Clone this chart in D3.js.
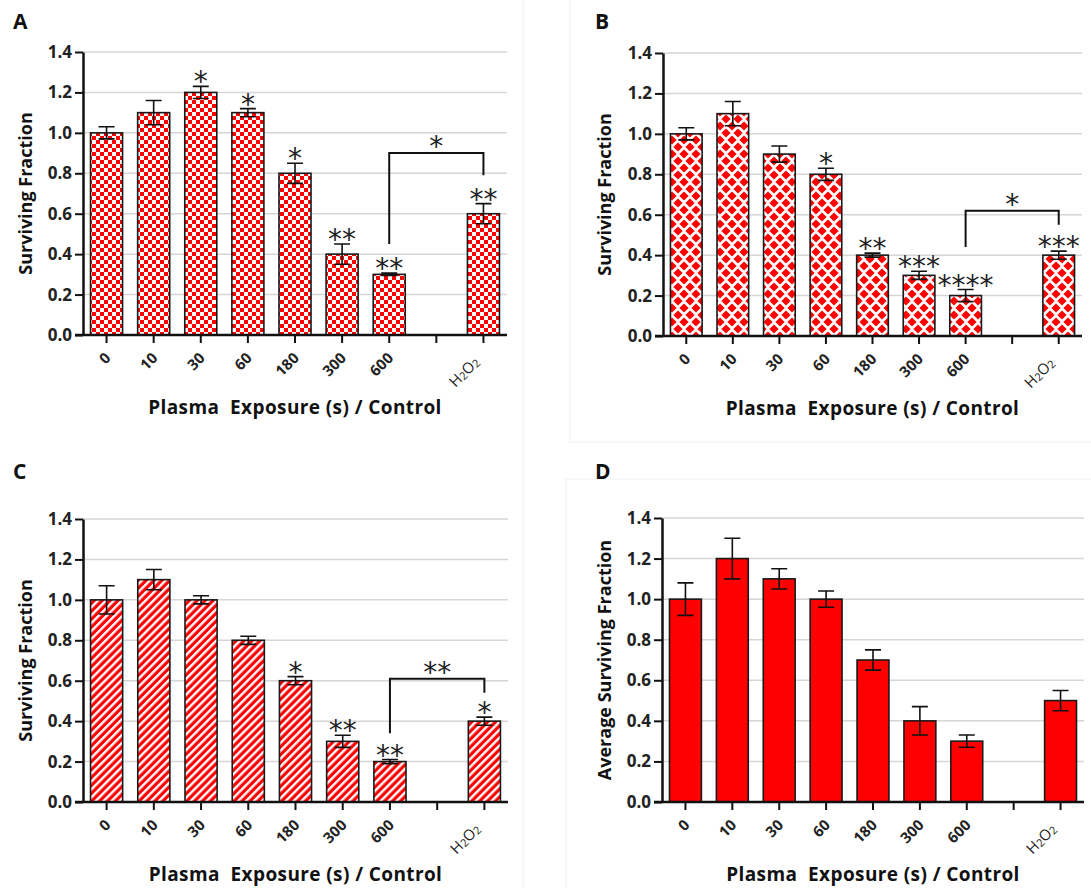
<!DOCTYPE html>
<html>
<head>
<meta charset="utf-8">
<script src="https://cdn.jsdelivr.net/npm/d3@7/dist/d3.min.js"></script>
<style>
  body { margin: 0; background: #fff; }
  svg { display: block; }
  text { font-family: 'Open Sans', sans-serif; }
</style>
</head>
<body>
<div id="chart"></div>
<script>
// Plasma exposure survival – four panels (A-D)

var categories = ['0', '10', '30', '60', '180', '300', '600', 'gap', 'H2O2']

var survivalA = [1.0, 1.1, 1.2, 1.1, 0.8, 0.4, 0.3, null, 0.6]
var errorA = [0.03, 0.06, 0.03, 0.02, 0.05, 0.05, 0.006, null, 0.05]
var starsA = ['', '', '*', '*', '*', '**', '**', '', '**']
var bracketA = { from: '600', to: 'H2O2', level: 0.9, fromEnd: 0.45, toEnd: 0.79, label: '*' }

var survivalB = [1.0, 1.1, 0.9, 0.8, 0.4, 0.3, 0.2, null, 0.4]
var errorB = [0.03, 0.06, 0.04, 0.03, 0.01, 0.02, 0.03, null, 0.02]
var starsB = ['', '', '', '*', '**', '***', '****', '', '***']
var bracketB = { from: '600', to: 'H2O2', level: 0.62, fromEnd: 0.44, toEnd: 0.55, label: '*' }

var survivalC = [1.0, 1.1, 1.0, 0.8, 0.6, 0.3, 0.2, null, 0.4]
var errorC = [0.07, 0.05, 0.02, 0.02, 0.02, 0.03, 0.01, null, 0.02]
var starsC = ['', '', '', '', '*', '**', '**', '', '*']
var bracketC = { from: '600', to: 'H2O2', level: 0.61, fromEnd: 0.34, toEnd: 0.54, label: '**' }

var survivalD = [1.0, 1.2, 1.1, 1.0, 0.7, 0.4, 0.3, null, 0.5]
var errorD = [0.08, 0.1, 0.05, 0.04, 0.05, 0.07, 0.03, null, 0.05]

var yTicks = [0, 0.2, 0.4, 0.6, 0.8, 1.0, 1.2, 1.4]

var width = 1091
var height = 888
var red = '#ff0000'
var starFont = "'DejaVu Sans', sans-serif"

var svg = d3.select('#chart').append('svg')
  .attr('width', width)
  .attr('height', height)

// faint frames of the original panel images
svg.append('line').attr('x1', 523).attr('x2', 523).attr('y1', 0).attr('y2', 888)
  .attr('stroke', '#f0f0f0')
svg.append('rect').attr('x', 570).attr('y', -2).attr('width', 530).attr('height', 444)
  .attr('fill', 'none').attr('stroke', '#f0f0f0')
svg.append('rect').attr('x', 566).attr('y', 479).attr('width', 530).attr('height', 420)
  .attr('fill', 'none').attr('stroke', '#f0f0f0')

// fill patterns
var defs = svg.append('defs')

var checker = defs.append('pattern').attr('id', 'checker')
  .attr('patternUnits', 'userSpaceOnUse').attr('width', 8).attr('height', 8)
checker.append('rect').attr('width', 8).attr('height', 8).attr('fill', red)
checker.append('rect').attr('width', 4).attr('height', 4).attr('fill', '#fff')
checker.append('rect').attr('x', 4).attr('y', 4).attr('width', 4).attr('height', 4).attr('fill', '#fff')

var diamonds = defs.append('pattern').attr('id', 'diamonds')
  .attr('patternUnits', 'userSpaceOnUse').attr('width', 12).attr('height', 14)
diamonds.append('rect').attr('width', 12).attr('height', 14).attr('fill', '#fff')
;[[0, 0], [12, 0], [6, 7], [0, 14], [12, 14]].forEach(function (c) {
  var r = 4.6
  diamonds.append('path')
    .attr('d', 'M' + c[0] + ',' + (c[1] - r) + 'L' + (c[0] + r) + ',' + c[1] +
      'L' + c[0] + ',' + (c[1] + r) + 'L' + (c[0] - r) + ',' + c[1] + 'Z')
    .attr('fill', red)
})

var stripes = defs.append('pattern').attr('id', 'stripes')
  .attr('patternUnits', 'userSpaceOnUse').attr('width', 5.6).attr('height', 5.6)
  .attr('patternTransform', 'rotate(45)')
stripes.append('rect').attr('width', 5.6).attr('height', 5.6).attr('fill', red)
stripes.append('rect').attr('width', 2.4).attr('height', 5.6).attr('fill', '#fff')

var panels = [
  { letter: 'A', lx: 13, ly: 29, x0: 83, x1: 507, top: 52, bottom: 335, titleX: 32, xTitleY: 414,
    values: survivalA, errors: errorA, stars: starsA, bracket: bracketA, fill: 'url(#checker)', yTitle: 'Surviving Fraction' },
  { letter: 'B', lx: 595, ly: 29, x0: 663, x1: 1082, top: 53, bottom: 336, titleX: 611, xTitleY: 415,
    values: survivalB, errors: errorB, stars: starsB, bracket: bracketB, fill: 'url(#diamonds)', yTitle: 'Surviving Fraction' },
  { letter: 'C', lx: 13, ly: 479, x0: 83, x1: 508, top: 519, bottom: 802, titleX: 32, xTitleY: 881,
    values: survivalC, errors: errorC, stars: starsC, bracket: bracketC, fill: 'url(#stripes)', yTitle: 'Surviving Fraction' },
  { letter: 'D', lx: 595, ly: 479, x0: 662, x1: 1084, top: 518, bottom: 802, titleX: 611, xTitleY: 881,
    values: survivalD, errors: errorD, stars: null, bracket: null, fill: red, yTitle: 'Average Surviving Fraction' }
]

panels.forEach(drawPanel)

function drawPanel (p) {
  var g = svg.append('g')
  var x = d3.scaleBand().domain(categories).range([p.x0, p.x1])
    .paddingInner(0.32).paddingOuter(0.16)
  var y = d3.scaleLinear().domain([0, 1.4]).range([p.bottom, p.top])
  var cx = function (c) { return x(c) + x.bandwidth() / 2 }

  // panel letter
  g.append('text').attr('x', p.lx).attr('y', p.ly)
    .attr('font-size', 21).attr('font-weight', 700).attr('fill', '#111')
    .text(p.letter)

  // grid
  g.append('g').selectAll('line')
    .data(yTicks.filter(function (t) { return t > 0 }))
    .join('line')
    .attr('x1', p.x0).attr('x2', p.x1)
    .attr('y1', function (d) { return y(d) }).attr('y2', function (d) { return y(d) })
    .attr('stroke', '#d6d6d6').attr('stroke-width', 1.5)

  var rows = categories.map(function (c, i) {
    return { cat: c, value: p.values[i], err: p.errors[i], star: p.stars ? p.stars[i] : '' }
  }).filter(function (d) { return d.value != null })

  // bars
  g.append('g').selectAll('rect')
    .data(rows)
    .join('rect')
    .attr('x', function (d) { return x(d.cat) })
    .attr('width', x.bandwidth())
    .attr('y', function (d) { return y(d.value) })
    .attr('height', function (d) { return y(0) - y(d.value) })
    .attr('fill', p.fill)
    .attr('stroke', '#1a1a1a').attr('stroke-width', 1.6)

  // error bars
  var eb = g.append('g').attr('stroke', '#111').attr('stroke-width', 1.6).attr('fill', 'none')
  rows.forEach(function (d) {
    var c = cx(d.cat)
    var hi = y(d.value + d.err)
    var lo = y(d.value - d.err)
    eb.append('path').attr('d', 'M' + c + ',' + hi + 'V' + lo +
      'M' + (c - 8) + ',' + hi + 'H' + (c + 8) + 'M' + (c - 8) + ',' + lo + 'H' + (c + 8))
  })

  // significance stars
  g.append('g').selectAll('text')
    .data(rows.filter(function (d) { return d.star }))
    .join('text')
    .attr('x', function (d) { return cx(d.cat) })
    .attr('y', function (d) { return y(d.value + d.err) + 5 })
    .attr('text-anchor', 'middle')
    .attr('font-size', 28).attr('fill', '#222')
    .style('font-family', starFont)
    .text(function (d) { return d.star })

  // bracket
  if (p.bracket) {
    var b = p.bracket
    var xa = cx(b.from)
    var xb = cx(b.to)
    g.append('path')
      .attr('d', 'M' + xa + ',' + y(b.fromEnd) + 'V' + y(b.level) + 'H' + xb + 'V' + y(b.toEnd))
      .attr('fill', 'none').attr('stroke', '#111').attr('stroke-width', 2)
    g.append('text')
      .attr('x', (xa + xb) / 2).attr('y', y(b.level) + 3)
      .attr('text-anchor', 'middle')
      .attr('font-size', 28).attr('fill', '#222')
      .style('font-family', starFont)
      .text(b.label)
  }

  // y axis
  var yAxis = g.append('g')
    .attr('transform', 'translate(' + p.x0 + ',0)')
    .call(d3.axisLeft(y).tickValues(yTicks).tickFormat(d3.format('.1f'))
      .tickSize(8).tickSizeOuter(0).tickPadding(3))
  yAxis.select('.domain').attr('stroke', '#111').attr('stroke-width', 2.5)
  yAxis.selectAll('.tick line').attr('stroke', '#111').attr('stroke-width', 2)
  yAxis.selectAll('.tick text')
    .attr('font-size', 17).attr('font-weight', 700).attr('fill', '#222')
    .style('font-family', "'Open Sans', sans-serif")

  // x axis
  var xAxis = g.append('g')
    .attr('transform', 'translate(0,' + p.bottom + ')')
    .call(d3.axisBottom(x).tickSize(8).tickSizeOuter(0))
  xAxis.select('.domain').attr('stroke', '#111').attr('stroke-width', 2.5)
    .attr('d', 'M' + (p.x0 - 8) + ',0H' + p.x1)
  xAxis.selectAll('.tick line').attr('stroke', '#111').attr('stroke-width', 2)
  xAxis.selectAll('.tick text').remove()
  xAxis.selectAll('.tick').each(function (c) {
    if (c === 'gap') return
    var t = d3.select(this).append('text')
      .attr('text-anchor', 'end')
      .attr('fill', '#222')
      .style('font-family', "'Open Sans', sans-serif")
    if (c === 'H2O2') {
      t.attr('transform', 'translate(-3,28) rotate(-45)')
        .attr('font-size', 15).attr('font-weight', 400)
      t.append('tspan').text('H')
      t.append('tspan').attr('font-size', 11).attr('dy', 1).text('2')
      t.append('tspan').attr('dy', -1).text('O')
      t.append('tspan').attr('font-size', 11).attr('dy', 1).text('2')
    } else {
      t.attr('transform', 'translate(5,24) rotate(-45)')
        .attr('font-size', 15).attr('font-weight', 700)
        .text(c)
    }
  })

  // axis titles
  g.append('text')
    .attr('transform', 'translate(' + p.titleX + ',' + (p.top + p.bottom) / 2 + ') rotate(-90)')
    .attr('text-anchor', 'middle')
    .attr('font-size', 18).attr('font-weight', 700).attr('fill', '#111')
    .text(p.yTitle)

  g.append('text')
    .attr('x', (p.x0 + p.x1) / 2).attr('y', p.xTitleY)
    .attr('text-anchor', 'middle')
    .attr('font-size', 19).attr('font-weight', 700).attr('fill', '#111')
    .attr('letter-spacing', 0.4)
    .attr('xml:space', 'preserve')
    .style('white-space', 'pre')
    .text('Plasma  Exposure (s) / Control')
}
</script>
</body>
</html>
